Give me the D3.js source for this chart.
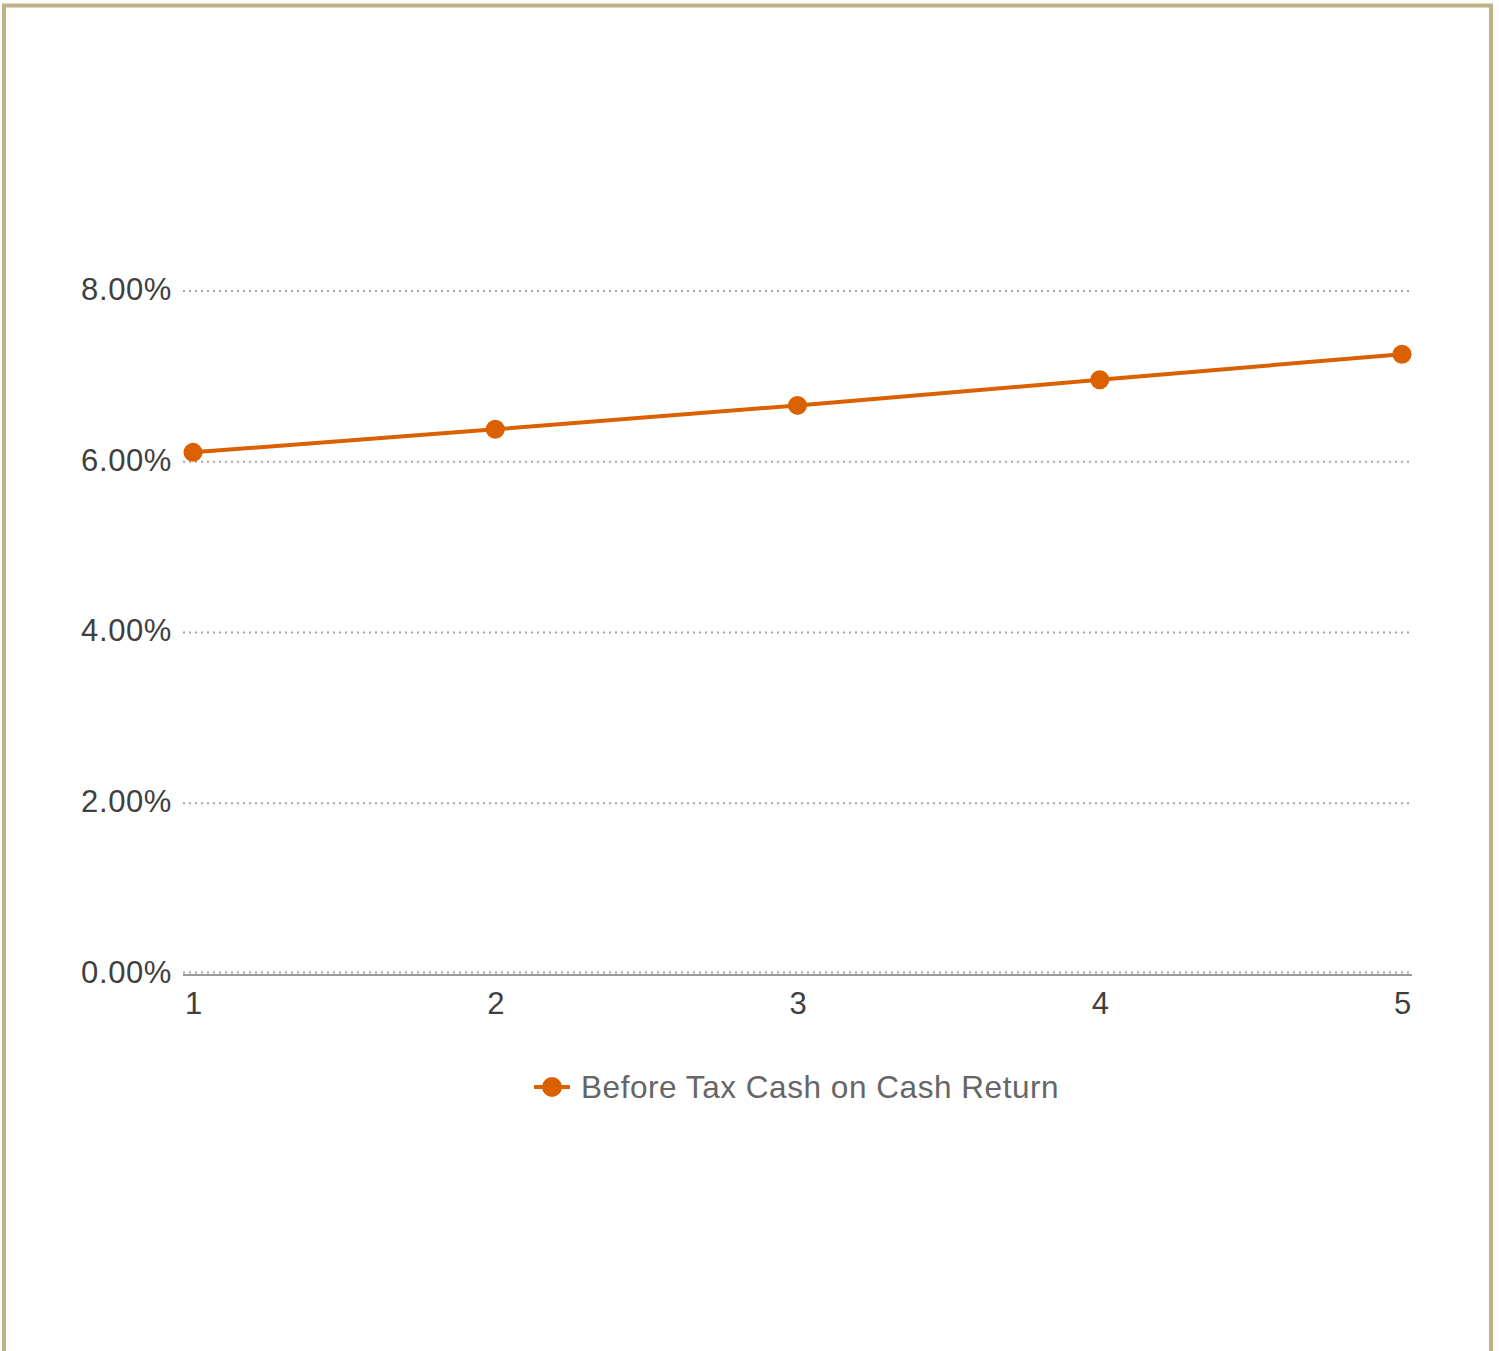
<!DOCTYPE html>
<html>
<head>
<meta charset="utf-8">
<script src="https://cdn.jsdelivr.net/npm/d3@7"></script>
<style>
  html, body { margin: 0; padding: 0; background: #ffffff; }
  svg { display: block; font-family: "Liberation Sans", Arial, Helvetica, sans-serif; }
</style>
</head>
<body>
<svg id="chart" width="1499" height="1351"></svg>
<script>
// Years of the holding period and the yearly return (percent)
const years = [1, 2, 3, 4, 5];
const cashOnCashReturn = [6.11, 6.38, 6.66, 6.96, 7.26];
const yTicks = [0, 2, 4, 6, 8];
const seriesName = "Before Tax Cash on Cash Return";

const lineColor = "#da6000";
const svg = d3.select("#chart");

// Tan frame around the card (bottom edge runs off the page)
svg.append("rect")
  .attr("x", 4).attr("y", 5.5)
  .attr("width", 1487).attr("height", 1400)
  .attr("fill", "none")
  .attr("stroke", "#c1b184")
  .attr("stroke-width", 4);

const x = d3.scaleLinear().domain([1, 5]).range([193, 1402]);
const y = d3.scaleLinear().domain([0, 8]).range([974, 291]);

// Horizontal dotted gridlines
svg.append("g")
  .selectAll("line")
  .data(yTicks)
  .join("line")
  .attr("x1", 183).attr("x2", 1410)
  .attr("y1", d => y(d) - (d === 0 ? 1.5 : 0))
  .attr("y2", d => y(d) - (d === 0 ? 1.5 : 0))
  .attr("stroke", "#a6a6a6")
  .attr("stroke-width", 2)
  .attr("stroke-dasharray", "2,4");

// Solid baseline
svg.append("line")
  .attr("x1", 183).attr("x2", 1412)
  .attr("y1", y(0) + 1).attr("y2", y(0) + 1)
  .attr("stroke", "#9a9a9a")
  .attr("stroke-width", 2);

// Y axis labels
const yAxis = d3.axisLeft(y)
  .tickValues(yTicks)
  .tickFormat(d => d3.format(".2f")(d) + "%")
  .tickSize(0)
  .tickPadding(0);
const gy = svg.append("g").attr("transform", "translate(172,0)").call(yAxis);
gy.select(".domain").remove();
gy.selectAll("text")
  .attr("fill", "#3f3f3f")
  .attr("font-size", 31)
  .attr("dy", "0.27em")
  .attr("letter-spacing", 0.6)
  .style("font-family", "'Liberation Sans', Arial, sans-serif");

// X axis labels
const xAxis = d3.axisBottom(x)
  .tickValues(years)
  .tickFormat(d3.format("d"))
  .tickSize(0)
  .tickPadding(0);
const gx = svg.append("g").attr("transform", "translate(0,992)").call(xAxis);
gx.select(".domain").remove();
gx.selectAll("text")
  .attr("fill", "#3f3f3f")
  .attr("font-size", 31)
  .attr("dy", "0.71em")
  .style("font-family", "'Liberation Sans', Arial, sans-serif");

// Series line and markers
const pts = years.map((yr, i) => [yr, cashOnCashReturn[i]]);
svg.append("path")
  .datum(pts)
  .attr("fill", "none")
  .attr("stroke", lineColor)
  .attr("stroke-width", 4)
  .attr("d", d3.line().x(d => x(d[0])).y(d => y(d[1])));

svg.append("g")
  .selectAll("circle")
  .data(pts)
  .join("circle")
  .attr("cx", d => x(d[0]))
  .attr("cy", d => y(d[1]))
  .attr("r", 9.5)
  .attr("fill", lineColor);

// Legend
const lg = svg.append("g").attr("transform", "translate(552,1087)");
lg.append("line")
  .attr("x1", -18).attr("x2", 18)
  .attr("stroke", lineColor).attr("stroke-width", 4);
lg.append("circle").attr("r", 10).attr("fill", lineColor);
lg.append("text")
  .attr("x", 29).attr("dy", "0.35em")
  .attr("fill", "#666666")
  .attr("font-size", 31.5)
  .attr("letter-spacing", 0.55)
  .text(seriesName);
</script>
</body>
</html>
